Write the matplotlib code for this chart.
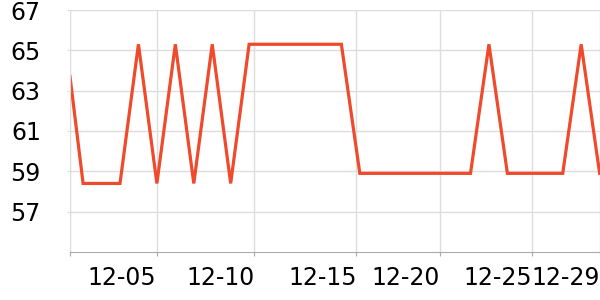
import matplotlib.pyplot as plt
import numpy as np

# day positions (first point sits on the left edge, the rest daily)
days = [0.0] + [0.71 + k for k in range(29)]
values = [63.7,
          58.4, 58.4, 58.4, 65.3, 58.4, 65.3, 58.4, 65.3, 58.4, 65.3,
          65.3, 65.3, 65.3, 65.3, 65.3, 58.9, 58.9, 58.9, 58.9, 58.9,
          58.9, 58.9, 65.3, 58.9, 58.9, 58.9, 58.9, 65.3, 58.9]

tick_pos = [0.0, 4.69, 10.0, 15.53, 20.05, 25.04, 28.73]
tick_labels = ["", "12-05", "12-10", "12-15", "12-20", "12-25", "12-29"]
y_ticks = [57, 59, 61, 63, 65, 67]

fig = plt.figure(figsize=(6, 3), dpi=100)
ax = fig.add_axes([70 / 600, 1 - 252 / 300, 530 / 600, 242 / 300])

ax.plot(days, values, color="#ef4a2c", linewidth=2.3, solid_joinstyle="miter", clip_on=True)

ax.set_xlim(0, 28.73)
ax.set_ylim(55, 67)
ax.set_yticks(y_ticks)
ax.set_xticks(tick_pos)
ax.set_xticklabels(tick_labels, ha="right")

ax.grid(True, color="#dddddd", linewidth=1)
ax.set_axisbelow(True)

for side in ["top", "right"]:
    ax.spines[side].set_visible(False)
ax.spines["left"].set_color("#dddddd")
ax.spines["bottom"].set_color("#aaaaaa")

ax.tick_params(axis="y", length=2, color="#dddddd", labelsize=17, pad=19, labelcolor="black")
ax.tick_params(axis="x", length=3, color="#aaaaaa", labelsize=17, pad=7, labelcolor="black")

fig.savefig("out.png", dpi=100)
